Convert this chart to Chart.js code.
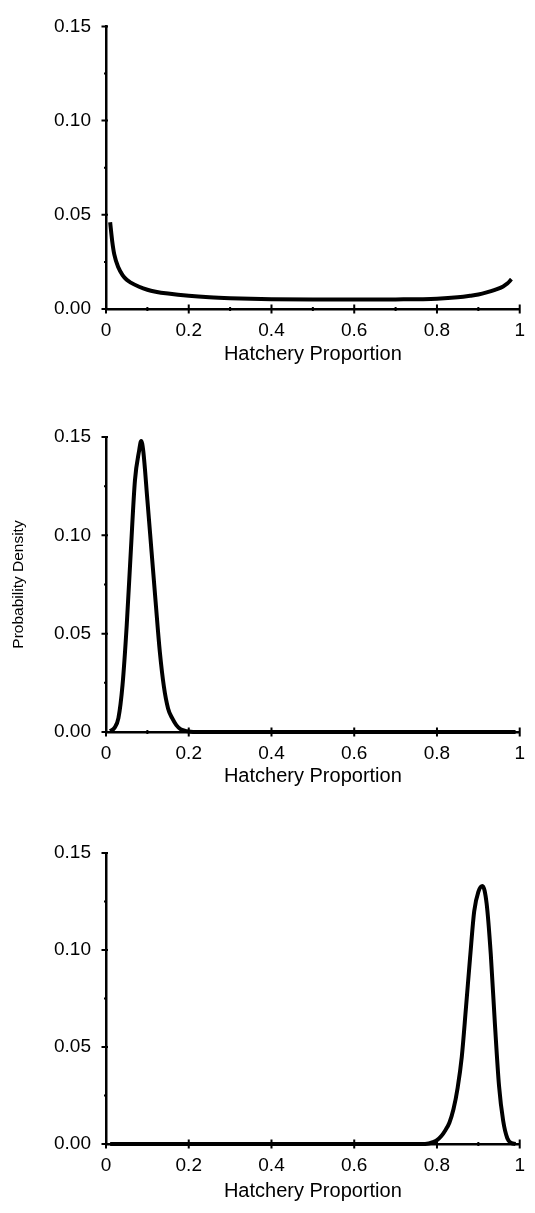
<!DOCTYPE html>
<html>
<head>
<meta charset="utf-8">
<script src="https://cdn.jsdelivr.net/npm/chart.js@4.4.1/dist/chart.umd.min.js"></script>
<style>
  html, body { margin: 0; padding: 0; background: #fff; }
  body { width: 535px; height: 1213px; position: relative; overflow: hidden; }
  canvas { position: absolute; left: 0; }
</style>
</head>
<body>
<canvas id="c1" width="535" height="380" style="top:0px"></canvas>
<canvas id="c2" width="535" height="422" style="top:380px"></canvas>
<canvas id="c3" width="535" height="411" style="top:802px"></canvas>
<script>
// Panel 1: U-shaped prior
const xs1 = [0.01, 0.015, 0.02, 0.03, 0.04, 0.05, 0.06, 0.08, 0.10, 0.12, 0.15, 0.20, 0.25, 0.30, 0.35, 0.40, 0.50, 0.60, 0.70, 0.80, 0.85, 0.88, 0.90, 0.92, 0.94, 0.96, 0.97, 0.98];
const ys1 = [0.046, 0.036, 0.029, 0.022, 0.018, 0.0155, 0.014, 0.0118, 0.0102, 0.0092, 0.0082, 0.007, 0.0062, 0.0057, 0.0054, 0.0052, 0.005, 0.005, 0.0051, 0.0055, 0.0062, 0.007, 0.0077, 0.0088, 0.0102, 0.012, 0.0135, 0.0158];

// Panel 2: peak near 0.085
const xs2 = [0.01, 0.02, 0.03, 0.04, 0.05, 0.06, 0.07, 0.08, 0.085, 0.09, 0.10, 0.11, 0.12, 0.13, 0.14, 0.15, 0.16, 0.17, 0.18, 0.19, 0.20, 0.22, 0.99];
const ys2 = [0.0005, 0.002, 0.007, 0.024, 0.054, 0.092, 0.128, 0.143, 0.148, 0.143, 0.118, 0.092, 0.066, 0.041, 0.023, 0.012, 0.007, 0.0035, 0.0015, 0.0007, 0.0003, 0, 0];

// Panel 3: peak near 0.91
const xs3 = [0.01, 0.76, 0.78, 0.79, 0.80, 0.81, 0.82, 0.83, 0.84, 0.85, 0.86, 0.87, 0.88, 0.89, 0.90, 0.91, 0.92, 0.93, 0.94, 0.95, 0.96, 0.97, 0.98, 0.99];
const ys3 = [0, 0, 0.0003, 0.001, 0.002, 0.004, 0.007, 0.011, 0.018, 0.029, 0.045, 0.070, 0.096, 0.120, 0.130, 0.133, 0.124, 0.098, 0.062, 0.030, 0.012, 0.003, 0.0005, 0];

const xTickLabels = ["0", "0.2", "0.4", "0.6", "0.8", "1"];
const yTickLabels = ["0.00", "0.05", "0.10", "0.15"];

const FONT = "'Liberation Sans', Arial, sans-serif";

// short tick marks that cross the axis lines
const axisTicks = {
    id: "axisTicks",
    afterDraw(chart) {
        const { ctx, chartArea } = chart;
        const x = chart.scales.x, y = chart.scales.y;
        ctx.save();
        ctx.strokeStyle = "#000";
        ctx.lineWidth = 2;
        ctx.beginPath();
        x.ticks.forEach(t => {
            const px = x.getPixelForValue(t.value);
            const major = Math.round(t.value * 10) % 2 === 0;
            const h = major ? 4.5 : 2;
            ctx.moveTo(px, chartArea.bottom - h);
            ctx.lineTo(px, chartArea.bottom + h);
        });
        y.ticks.forEach(t => {
            const py = y.getPixelForValue(t.value);
            const major = Math.round(t.value * 1000) % 50 === 0;
            ctx.moveTo(chartArea.left - (major ? 4.5 : 2), py);
            ctx.lineTo(chartArea.left + (major ? 2 : 0), py);
        });
        ctx.stroke();
        ctx.restore();
    }
};

function makePanel(id, xs, ys, opts) {
    const points = xs.map((v, i) => ({ x: v, y: ys[i] }));
    return new Chart(document.getElementById(id), {
        type: "scatter",
        plugins: [axisTicks],
        data: {
            datasets: [{
                data: points,
                showLine: true,
                borderColor: "#000",
                borderWidth: 4,
                pointRadius: 0,
                cubicInterpolationMode: "monotone",
                clip: 6
            }]
        },
        options: {
            responsive: false,
            animation: false,
            devicePixelRatio: 1,
            layout: { padding: { top: opts.top, right: 13, left: 0, bottom: 0 } },
            plugins: { legend: { display: false }, tooltip: { enabled: false } },
            scales: {
                x: {
                    type: "linear",
                    min: 0,
                    max: 1,
                    afterFit: s => { s.height = opts.xh; },
                    border: { display: true, color: "#000", width: 2.5 },
                    grid: { display: false, drawTicks: false },
                    ticks: {
                        stepSize: 0.1,
                        autoSkip: false,
                        maxRotation: 0,
                        padding: 10,
                        color: "#000",
                        font: { family: FONT, size: 19 },
                        callback: v => {
                            const k = Math.round(v * 10);
                            return k % 2 === 0 ? xTickLabels[k / 2] : "";
                        }
                    },
                    title: {
                        display: true,
                        text: "Hatchery Proportion",
                        color: "#000",
                        font: { family: FONT, size: 20 },
                        padding: { top: 0, bottom: opts.titlePad }
                    }
                },
                y: {
                    min: 0,
                    max: 0.15,
                    afterFit: s => { s.width = 106; },
                    border: { display: true, color: "#000", width: 2.5 },
                    grid: { display: false, drawTicks: false },
                    ticks: {
                        stepSize: 0.025,
                        autoSkip: false,
                        padding: 15,
                        color: "#000",
                        font: { family: FONT, size: 19 },
                        callback: v => {
                            const k = Math.round(v * 1000);
                            return k % 50 === 0 ? yTickLabels[k / 50] : "";
                        }
                    },
                    title: {
                        display: opts.yTitle,
                        text: "Probability Density",
                        color: "#000",
                        font: { family: FONT, size: 15.5 },
                        padding: { top: 9, bottom: 0 }
                    }
                }
            }
        }
    });
}

makePanel("c1", xs1, ys1, { top: 17, xh: 71, titlePad: 14, yTitle: false });
makePanel("c2", xs2, ys2, { top: 57, xh: 70, titlePad: 14, yTitle: true });
makePanel("c3", xs3, ys3, { top: 51, xh: 69, titlePad: 10, yTitle: false });
</script>
</body>
</html>
